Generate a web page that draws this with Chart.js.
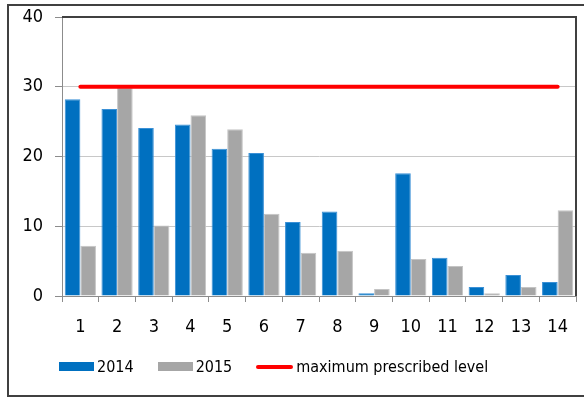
<!DOCTYPE html>
<html>
<head>
<meta charset="utf-8">
<script src="https://cdn.jsdelivr.net/npm/chart.js@4.4.1/dist/chart.umd.min.js"></script>
<style>
  html, body { margin: 0; padding: 0; background: #fff; overflow: hidden; }
  #wrap { position: relative; width: 584px; height: 397px; overflow: hidden; }
  #frame { position: absolute; left: 7px; top: 4px; width: 1000px; height: 389px;
           border: 2px solid #404040; border-right: none; }
  #chart { position: absolute; left: 0; top: 0; }
  #legend { position: absolute; left: 59px; top: 357px; display: flex; align-items: center;
            font-family: "DejaVu Sans Condensed", "DejaVu Sans", sans-serif; font-size: 16px; color: #000; }
  .item { display: flex; align-items: center; margin-right: 24px; }
  .swatch { width: 35px; height: 9px; margin-right: 3px; }
  .swatch.line { width: 37px; height: 4px; border-radius: 2px; }
</style>
</head>
<body>
<div id="wrap">
  <div id="frame"></div>
  <canvas id="chart" width="584" height="397"></canvas>
  <div id="legend"></div>
</div>
<script>
// categories and values
const categories = ['1', '2', '3', '4', '5', '6', '7', '8', '9', '10', '11', '12', '13', '14'];
const values2014 = [28.2, 26.8, 24.1, 24.6, 21.1, 20.5, 10.6, 12.1, 0.4, 17.6, 5.5, 1.3, 3.0, 2.0];
const values2015 = [7.2, 29.9, 10.1, 25.9, 23.9, 11.8, 6.2, 6.5, 1.0, 5.3, 4.3, 0.4, 1.3, 12.3];
const maxLevel = [30, 30, 30, 30, 30, 30, 30, 30, 30, 30, 30, 30, 30, 30];
const yTicks = [0, 10, 20, 30, 40];

const font = { family: '"DejaVu Sans Condensed", "DejaVu Sans", sans-serif', size: 18 };

// dark frame on top and right side of the plot area
const plotFrame = {
    id: 'plotFrame',
    afterDatasetsDraw(chart) {
        const { ctx, chartArea: a } = chart;
        ctx.save();
        ctx.strokeStyle = '#404040';
        ctx.lineWidth = 2;
        ctx.beginPath();
        ctx.moveTo(a.left, a.top);
        ctx.lineTo(a.right, a.top);
        ctx.lineTo(a.right, a.bottom);
        ctx.stroke();
        ctx.restore();
    }
};

const chart = new Chart(document.getElementById('chart'), {
    data: {
        labels: categories,
        datasets: [
            {
                type: 'line',
                label: 'maximum prescribed level',
                data: maxLevel,
                borderColor: '#ff0000',
                backgroundColor: '#ff0000',
                borderWidth: 4,
                borderCapStyle: 'round',
                pointRadius: 0,
                order: 0
            },
            {
                type: 'bar',
                label: '2014',
                data: values2014,
                backgroundColor: '#0070c0',
                borderColor: '#3a90d6',
                borderWidth: 1,
                categoryPercentage: 0.85,
                barPercentage: 1.0,
                order: 1
            },
            {
                type: 'bar',
                label: '2015',
                data: values2015,
                backgroundColor: '#a6a6a6',
                borderColor: '#c4c4c4',
                borderWidth: 1,
                categoryPercentage: 0.85,
                barPercentage: 1.0,
                order: 2
            }
        ]
    },
    options: {
        responsive: false,
        animation: false,
        layout: { padding: { left: 0, top: 17, right: 8, bottom: 0 } },
        plugins: {
            legend: { display: false },
            tooltip: { enabled: false }
        },
        scales: {
            x: {
                offset: true,
                grid: { drawOnChartArea: false, tickLength: 6, tickColor: '#8c8c8c' },
                border: { color: '#8c8c8c', width: 1 },
                ticks: { color: '#000', font: font, padding: 15, maxRotation: 0 },
                afterFit: s => { s.height = 101; }
            },
            y: {
                min: 0,
                max: 40,
                afterBuildTicks: s => { s.ticks = yTicks.map(v => ({ value: v })); },
                grid: {
                    color: c => (c.tick && (c.tick.value === 0 || c.tick.value === 40)) ? 'rgba(0,0,0,0)' : '#c8c8c8',
                    tickColor: '#8c8c8c',
                    tickLength: 7
                },
                border: { color: '#8c8c8c', width: 1 },
                // small lineHeight keeps the top label from pushing the plot area down
                ticks: { color: '#000', font: { ...font, lineHeight: 0.5 }, padding: 12 },
                afterFit: s => { s.width = 62; }
            }
        }
    },
    plugins: [plotFrame]
});

// legend built from the chart's datasets, in reference order
const legendOrder = [1, 2, 0];
const legendEl = document.getElementById('legend');
legendOrder.forEach(i => {
    const ds = chart.data.datasets[i];
    const item = document.createElement('div');
    item.className = 'item';
    const sw = document.createElement('span');
    sw.className = 'swatch' + (ds.type === 'line' ? ' line' : '');
    sw.style.background = ds.type === 'line' ? ds.borderColor : ds.backgroundColor;
    const txt = document.createElement('span');
    txt.textContent = ds.label;
    item.appendChild(sw);
    item.appendChild(txt);
    legendEl.appendChild(item);
});
</script>
</body>
</html>
